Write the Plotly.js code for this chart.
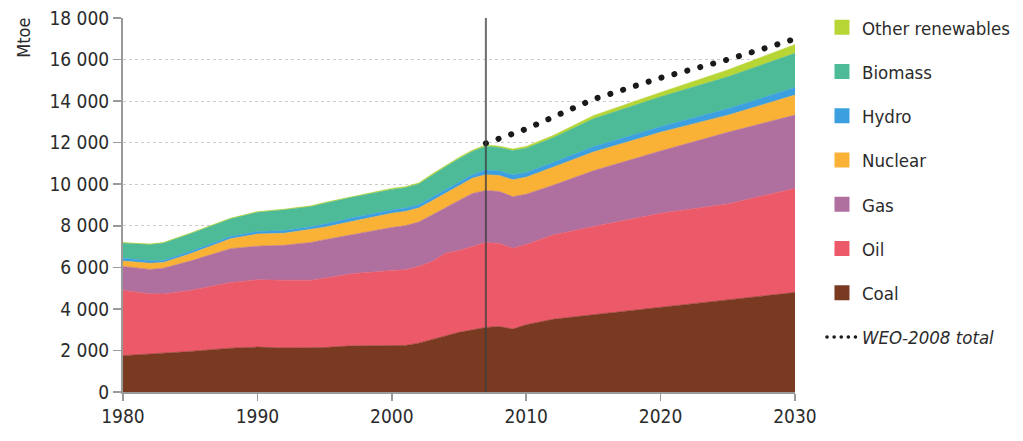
<!DOCTYPE html>
<html>
<head>
<meta charset="utf-8">
<script src="https://cdn.plot.ly/plotly-3.0.1.min.js"></script>
<style>
html,body{margin:0;padding:0;background:#fff;}
#chart{width:1023px;height:441px;}
</style>
</head>
<body>
<div id="chart"></div>
<script>
// ---- data (Mtoe) ----
const years   = [1980,1982,1983,1985,1988,1990,1992,1994,1995,1997,2000,2001,2002,2003,2004,2005,2006,2007,2008,2009,2010,2012,2015,2020,2025,2030];
const coal    = [1750,1830,1840,1950,2110,2160,2120,2110,2140,2220,2240,2240,2350,2510,2700,2870,2990,3110,3150,3030,3240,3500,3720,4080,4440,4790];
const oil     = [3140,2900,2880,2940,3160,3240,3260,3270,3340,3470,3610,3640,3690,3770,3980,3940,4010,4080,4000,3890,3860,4060,4240,4520,4610,5010];
const gas     = [1150,1170,1240,1410,1630,1620,1680,1820,1850,1890,2070,2120,2140,2240,2210,2410,2550,2510,2500,2480,2420,2390,2690,3000,3450,3530];
const nuclear = [ 260, 300, 270, 350, 470, 580, 580, 620, 600, 620, 680, 690, 670, 680, 680, 730, 740, 760, 770, 810, 820, 870, 900, 900, 820, 960];
const hydro   = [ 140, 120, 100, 110, 110, 120, 130, 130, 150, 170, 160, 170, 160, 170, 170, 170, 170, 220, 220, 240, 220, 220, 250, 270, 310, 360];
const biomass = [ 730, 780, 840, 860, 860, 930,1000, 980,1010,1000, 990, 970,1000,1070,1100,1110,1120,1150,1130,1170,1170,1200,1350,1440,1540,1650];
const otherRenewables = [20,20,20,20,20,30,30,30,30,30,50,50,50,50,70,60,60,60,60,70,90,100,150,210,330,420];

const weoYears = [2007, 2010, 2015, 2020, 2025, 2030];
const weoTotal = [11970, 12660, 14090, 15120, 16000, 16990];

const baseYear = 2007;

const seriesNames  = ["Coal","Oil","Gas","Nuclear","Hydro","Biomass","Other renewables"];
const seriesValues = [coal, oil, gas, nuclear, hydro, biomass, otherRenewables];
const seriesColors = ["#7a3a22","#ec5a69","#b0709f","#f9b136","#3b9fe0","#4dbb98","#b7d535"];

const legendOrder = ["Other renewables","Biomass","Hydro","Nuclear","Gas","Oil","Coal"];

const xTicks = [1980,1990,2000,2010,2020,2030];

// ---- traces ----
const FONT = '"DejaVu Sans Condensed","Liberation Sans Narrow","DejaVu Sans",sans-serif';
const traces = [];
seriesNames.forEach((name, i) => {
  traces.push({
    type: 'scatter', mode: 'lines', x: years, y: seriesValues[i],
    stackgroup: 'energy', name: name, showlegend: false,
    line: {width: 0.6, color: seriesColors[i], shape: 'linear'},
    fillcolor: seriesColors[i], hoverinfo: 'x+y+name'
  });
});
legendOrder.forEach((name) => {
  const i = seriesNames.indexOf(name);
  traces.push({
    type: 'scatter', mode: 'markers', x: [null], y: [null],
    name: name, legendgroup: 'g' + name, showlegend: true,
    marker: {symbol: 'square', size: 15, color: seriesColors[i]}
  });
});
traces.push({
  type: 'scatter', mode: 'lines', x: weoYears, y: weoTotal,
  name: '<i>WEO-2008 total</i>', legendgroup: 'gweo', showlegend: true,
  line: {color: '#1a1a1a', width: 6, dash: '6px,7.3px'}
});

const layout = {
  width: 1023, height: 441,
  margin: {l: 123, r: 228, t: 18, b: 49, pad: 0, autoexpand: false},
  paper_bgcolor: '#ffffff', plot_bgcolor: '#ffffff',
  separators: '. ',
  font: {family: FONT, size: 19, color: '#2b2b2b'},
  showlegend: true,
  legend: {
    xref: 'container', yref: 'container',
    x: 0.8035, xanchor: 'left', y: 0.98, yanchor: 'top',
    traceorder: 'grouped', tracegroupgap: 17.2, maxheight: 441,
    font: {family: FONT, size: 18.5, color: '#2b2b2b'},
    bgcolor: 'rgba(0,0,0,0)', itemwidth: 30
  },
  xaxis: {
    range: [1980, 2030], tickvals: xTicks, ticktext: xTicks.map(String),
    showgrid: false, zeroline: false,
    showline: true, linecolor: '#9a9a9a', linewidth: 1.5,
    ticks: 'outside', ticklen: 7, tickcolor: '#9a9a9a', tickwidth: 1.5,
    tickfont: {family: FONT, size: 19, color: '#2b2b2b'}
  },
  yaxis: {
    range: [0, 18000], dtick: 2000, tick0: 0, tickformat: ',d',
    showgrid: true, gridcolor: '#cccccc', gridwidth: 1, griddash: 'dot',
    zeroline: false,
    showline: true, linecolor: '#9a9a9a', linewidth: 2,
    ticks: 'outside', ticklen: 8, tickcolor: '#9a9a9a', tickwidth: 1.5,
    tickfont: {family: FONT, size: 19, color: '#2b2b2b'}
  },
  shapes: [{
    type: 'line', xref: 'x', yref: 'y', x0: baseYear, x1: baseYear, y0: 0, y1: 18000,
    line: {color: 'rgba(60,60,60,0.75)', width: 2}, layer: 'above'
  }],
  annotations: [{
    text: 'Mtoe', xref: 'paper', yref: 'paper', x: -0.148, y: 0.946,
    xanchor: 'center', yanchor: 'middle', textangle: -90, showarrow: false,
    font: {family: FONT, size: 18, color: '#2b2b2b'}
  }]
};

Plotly.newPlot('chart', traces, layout, {staticPlot: true, displayModeBar: false}).then(gd => {
  // round dots for the WEO line (plot and legend)
  const lines = gd.querySelectorAll('.scatterlayer .trace');
  const last = lines[lines.length - 1];
  if (last) last.querySelectorAll('path.js-line').forEach(p => {
    p.style.strokeLinecap = 'round';
    p.style.strokeDasharray = '0.1px,13.3px';
  });
  const legItems = gd.querySelectorAll('.legend .traces');
  const li = legItems[legItems.length - 1];
  if (li) li.querySelectorAll('.legendlines path').forEach(p => {
    p.style.strokeLinecap = 'round';
    p.style.strokeWidth = '3.5px';
    p.style.strokeDasharray = '0.1px,7px';
  });
});
</script>
</body>
</html>
